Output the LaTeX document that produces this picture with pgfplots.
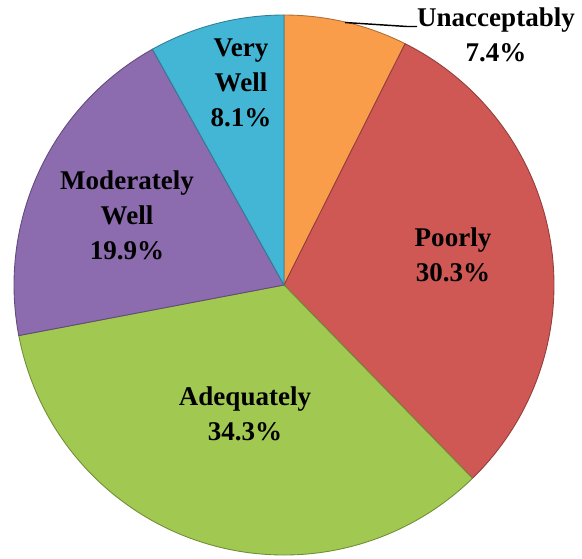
\documentclass[border=0pt]{standalone}
\usepackage{pgfplots}
\pgfplotsset{compat=1.18}
\usepackage{fontspec}
\setmainfont{Liberation Serif}
\newfontfamily\lblfont{Liberation Serif}[BoldFont={Liberation Serif Bold}]
\definecolor{cOrange}{HTML}{F99D4A}
\definecolor{cRed}{HTML}{CF5855}
\definecolor{cGreen}{HTML}{A1C951}
\definecolor{cPurple}{HTML}{8C6BAE}
\definecolor{cCyan}{HTML}{43B6D6}
\begin{document}
\begin{tikzpicture}
% shares (percent), clockwise from 12 o'clock
\def\pA{7.4}  % Unacceptably
\def\pB{30.3} % Poorly
\def\pC{34.3} % Adequately
\def\pD{19.9} % Moderately Well
\def\pE{8.1}  % Very Well
\pgfmathsetmacro\aA{90}
\pgfmathsetmacro\aB{\aA-3.6*\pA}
\pgfmathsetmacro\aC{\aB-3.6*\pB}
\pgfmathsetmacro\aD{\aC-3.6*\pC}
\pgfmathsetmacro\aE{\aD-3.6*\pD}
\pgfmathsetmacro\aF{\aE-3.6*\pE}
\def\cx{284}\def\cy{273}\def\rr{270}
\begin{axis}[name=ax, scale only axis, width=14cm, height=13.423cm,
  xmin=0, xmax=582, ymin=0, ymax=558, hide axis, clip=false]
\addplot[fill=cOrange, draw=cOrange!70!black, line width=0.6pt, domain=\aB:\aA, samples=40]
  ({\cx+\rr*cos(x)},{\cy+\rr*sin(x)}) -- (axis cs:\cx,\cy) -- cycle;
\addplot[fill=cRed, draw=cRed!70!black, line width=0.6pt, domain=\aC:\aB, samples=120]
  ({\cx+\rr*cos(x)},{\cy+\rr*sin(x)}) -- (axis cs:\cx,\cy) -- cycle;
\addplot[fill=cGreen, draw=cGreen!70!black, line width=0.6pt, domain=\aD:\aC, samples=120]
  ({\cx+\rr*cos(x)},{\cy+\rr*sin(x)}) -- (axis cs:\cx,\cy) -- cycle;
\addplot[fill=cPurple, draw=cPurple!70!black, line width=0.6pt, domain=\aE:\aD, samples=80]
  ({\cx+\rr*cos(x)},{\cy+\rr*sin(x)}) -- (axis cs:\cx,\cy) -- cycle;
\addplot[fill=cCyan, draw=cCyan!70!black, line width=0.6pt, domain=\aF:\aE, samples=40]
  ({\cx+\rr*cos(x)},{\cy+\rr*sin(x)}) -- (axis cs:\cx,\cy) -- cycle;
\draw[black, line width=1pt] (axis cs:345,535.5) -- (axis cs:407,531.5) -- (axis cs:417,531.5);
\tikzset{lbl/.style={font=\lblfont\fontsize{18.5}{24}\selectfont\bfseries, align=center, text=black, inner sep=0pt}}
\node[lbl] at (axis cs:496,523) {Unacceptably\\7.4\%};
\node[lbl] at (axis cs:453,303) {Poorly\\30.3\%};
\node[lbl] at (axis cs:245,144) {Adequately\\34.3\%};
\node[lbl] at (axis cs:127,343) {Moderately\\Well\\19.9\%};
\node[lbl] at (axis cs:241,475) {Very\\Well\\8.1\%};
\end{axis}
\pgfresetboundingbox
\path (ax.south west) rectangle (ax.north east);
\end{tikzpicture}
\end{document}
